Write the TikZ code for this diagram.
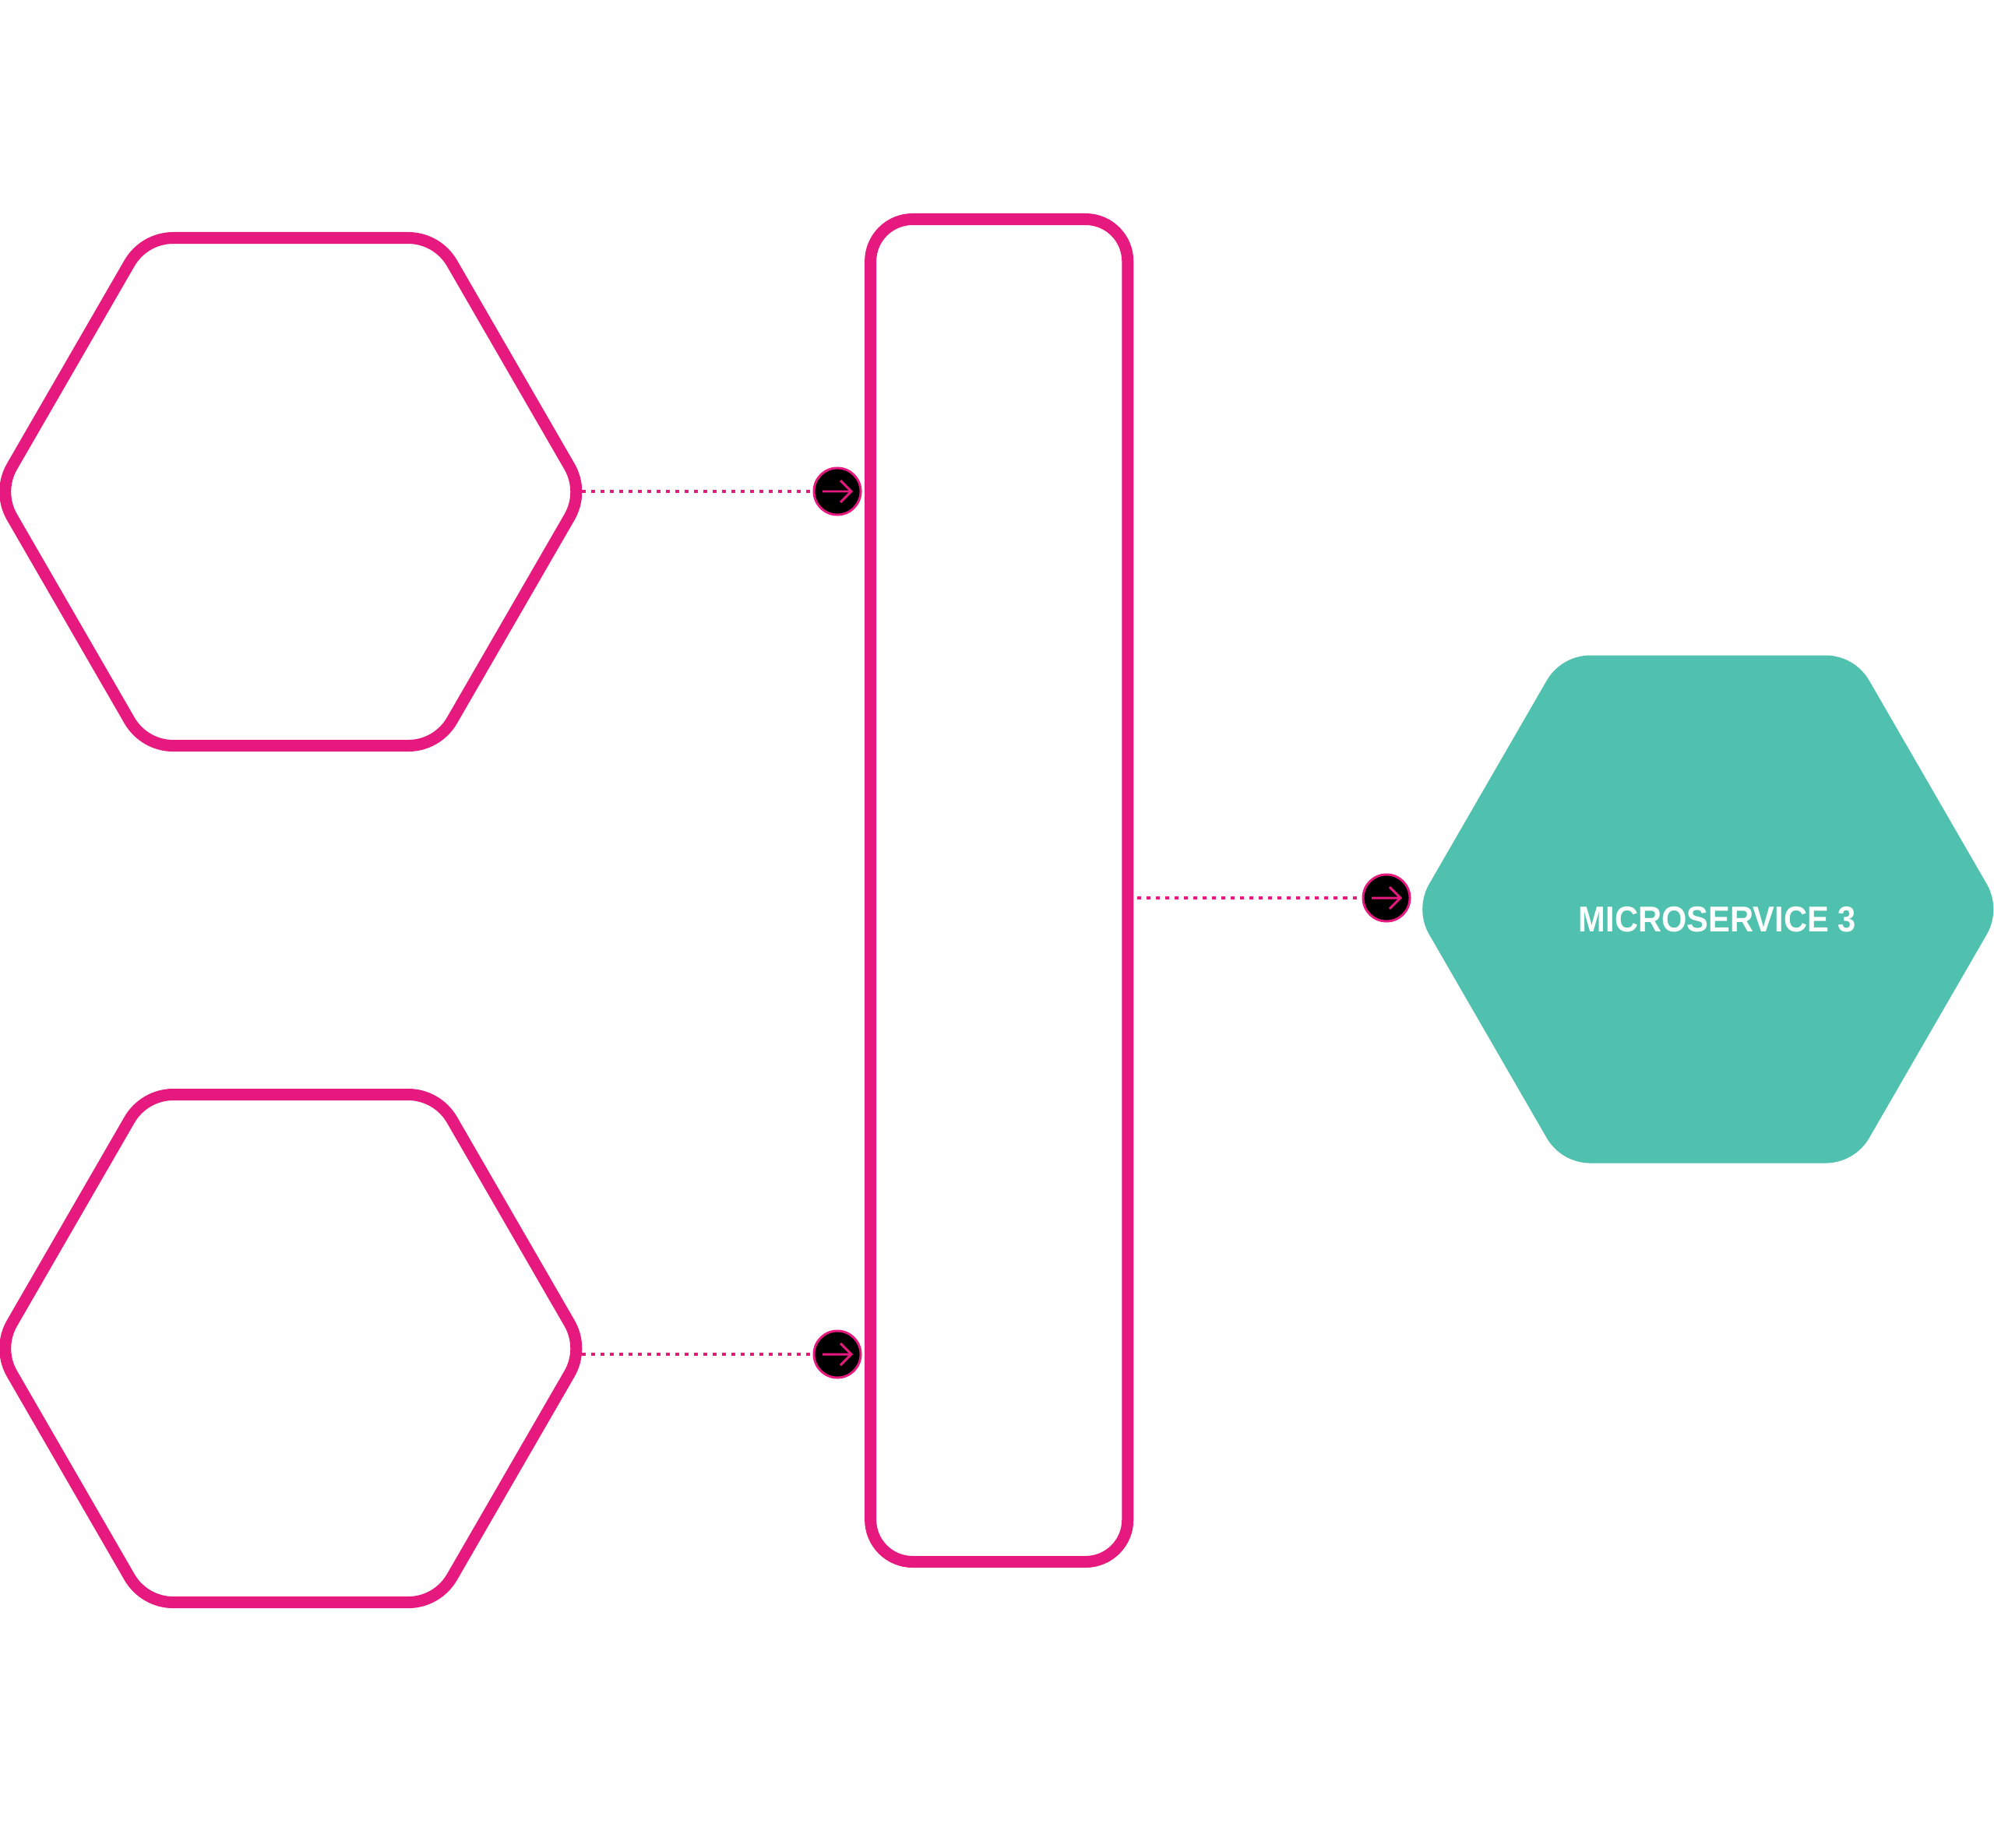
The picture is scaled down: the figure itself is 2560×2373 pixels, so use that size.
\documentclass[tikz,border=0pt]{standalone}
\usepackage{fontspec}
\setmainfont[FakeStretch=.905]{Liberation Sans}
\usetikzlibrary{positioning}
\definecolor{hotpink}{HTML}{E6197F}
\definecolor{mint}{HTML}{4FC1AE}
\tikzset{
  hexline/.style={line width=4.27pt,draw=hotpink},
  hexfill/.style={fill=mint},
  hexturns/.style={insert path={
    -- ++(301.5,0) arc[start angle=90,end angle=30,radius=.65cm]
    -- ++(150.75,261) arc[start angle=30,end angle=-30,radius=.65cm]
    -- ++(-150.75,261) arc[start angle=-30,end angle=-90,radius=.65cm]
    -- ++(-301.5,0) arc[start angle=-90,end angle=-150,radius=.65cm]
    -- ++(-150.75,-261) arc[start angle=-150,end angle=-210,radius=.65cm]
    -- ++(150.75,-261) arc[start angle=150,end angle=90,radius=.65cm]
    -- cycle}},
  busbox/.style={draw=hotpink,line width=4.27pt,rounded corners=.54cm,minimum width=3.3cm,minimum height=17.23cm},
  arrowdot/.style={circle,fill=black,draw=hotpink,line width=.85pt,minimum size=.6cm,inner sep=0pt},
  dotline/.style={draw=hotpink,line width=1.1pt,dash pattern=on .05cm off .07cm},
  glyph/.style={draw=hotpink,line width=.85pt}
}
\begin{document}
\begin{tikzpicture}[x=.01cm,y=-.01cm]
\useasboundingbox (0,0) rectangle (2560,2373);

\draw[hexline] (222.5,305.5) [hexturns];
\draw[hexline] (222.5,1405.5) [hexturns];
\fill[hexfill] (2042,841.5) [hexturns];

\coordinate (hexa) at (747,631);
\coordinate (hexb) at (747,1739);

\node [busbox] (bus) at (1282.7,1143.5) {};
\node [arrowdot] (arrowa) at (1075,631) {};
\node [arrowdot] (arrowb) at (1075,1739) {};
\node [arrowdot] (arrowc) at (1780,1153) {};

\draw[dotline] (hexa) -- (arrowa);
\draw[dotline] (hexb) -- (arrowb);
\draw[dotline,shorten <=.05cm] (bus.east |- arrowc) -- (arrowc);

\foreach \n in {arrowa,arrowb,arrowc}
  \draw[glyph] ([xshift=-.19cm]\n.center) -- ++(37,0) ++(-14,-14) -- ++(14,14) -- ++(-14,14);

\node [text=white,font=\bfseries\fontsize{13.1pt}{15pt}\selectfont] (msc) at (2204.7,1181) {MICROSERVICE 3};

\end{tikzpicture}
\end{document}
